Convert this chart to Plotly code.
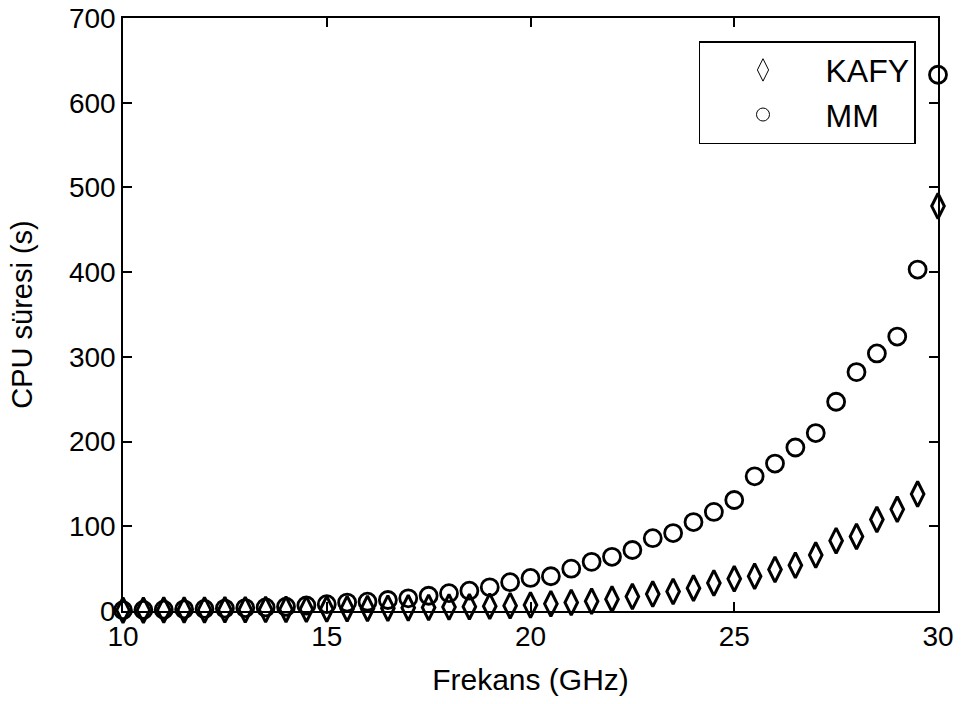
import plotly.graph_objects as go

# Frequency sweep (GHz)
frekans = [10.0, 10.5, 11.0, 11.5, 12.0, 12.5, 13.0, 13.5, 14.0, 14.5,
           15.0, 15.5, 16.0, 16.5, 17.0, 17.5, 18.0, 18.5, 19.0, 19.5,
           20.0, 20.5, 21.0, 21.5, 22.0, 22.5, 23.0, 23.5, 24.0, 24.5,
           25.0, 25.5, 26.0, 26.5, 27.0, 27.5, 28.0, 28.5, 29.0, 29.5,
           30.0]

# CPU time (s) for each method
kafy = [1.0, 1.0, 1.1, 1.2, 1.3, 1.4, 1.5, 1.7, 1.9, 2.1,
        2.4, 2.7, 3.0, 3.3, 3.7, 4.1, 4.6, 5.1, 5.7, 6.3,
        7.0, 8.5, 10.0, 11.5, 14.0, 17.0, 20.0, 23.0, 27.0, 33.0,
        38.0, 41.0, 49.0, 54.0, 66.0, 83.0, 88.0, 108.0, 120.0, 138.0,
        478.0]
mm = [1.0, 1.3, 1.6, 2.0, 2.4, 2.9, 3.5, 4.2, 5.0, 6.5,
      8.0, 10.0, 11.0, 13.0, 15.0, 18.0, 21.0, 24.0, 28.0, 34.0,
      39.0, 41.0, 50.0, 58.0, 64.0, 72.0, 86.0, 92.0, 105.0, 117.0,
      131.0, 159.0, 174.0, 193.0, 210.0, 247.0, 282.0, 304.0, 324.0, 403.0,
      633.0]

x_ticks = [10, 15, 20, 25, 30]
y_ticks = [0, 100, 200, 300, 400, 500, 600, 700]

FONT = "Liberation Sans, Arial, sans-serif"

fig = go.Figure()

# Data series (thick open markers)
fig.add_trace(go.Scatter(
    x=frekans, y=kafy, mode="markers", name="KAFY", showlegend=False,
    marker=dict(symbol="diamond-tall-open", size=18, color="black",
                line=dict(color="black", width=3)),
    cliponaxis=False,
))
fig.add_trace(go.Scatter(
    x=frekans, y=mm, mode="markers", name="MM", showlegend=False,
    marker=dict(symbol="circle-open", size=17, color="black",
                line=dict(color="black", width=2.8)),
    cliponaxis=False,
))

# Legend entries with thin outline markers
fig.add_trace(go.Scatter(
    x=[None], y=[None], mode="markers", name="KAFY",
    marker=dict(symbol="diamond-tall-open", size=16, color="black",
                line=dict(color="black", width=1)),
))
fig.add_trace(go.Scatter(
    x=[None], y=[None], mode="markers", name="MM",
    marker=dict(symbol="circle-open", size=13, color="black",
                line=dict(color="black", width=1)),
))

axis_common = dict(
    showgrid=False, zeroline=False, showline=True, linecolor="black",
    linewidth=1.5, mirror="ticks", ticks="inside", ticklen=9,
    tickwidth=1.5, tickcolor="black",
    tickfont=dict(family=FONT, size=28, color="black"),
)

fig.update_xaxes(
    range=[10, 30], tickvals=x_ticks, ticktext=[str(v) for v in x_ticks],
    title=dict(text="Frekans (GHz)", font=dict(family=FONT, size=30, color="black"),
               standoff=18),
    **axis_common,
)
fig.update_yaxes(
    range=[0, 700], tickvals=y_ticks, ticktext=[str(v) for v in y_ticks],
    title=dict(text="CPU süresi (s)", font=dict(family=FONT, size=29, color="black"),
               standoff=28),
    **axis_common,
)

fig.update_layout(
    width=961, height=704,
    margin=dict(l=123, r=23, t=18, b=93, autoexpand=False),
    paper_bgcolor="white", plot_bgcolor="white",
    font=dict(family=FONT, color="black"),
    legend=dict(
        x=0.973, y=0.961, xanchor="right", yanchor="top",
        bgcolor="white", bordercolor="black", borderwidth=1.5,
        font=dict(family=FONT, size=32, color="black"),
        itemwidth=115,
    ),
)

fig.write_html("out.html")
